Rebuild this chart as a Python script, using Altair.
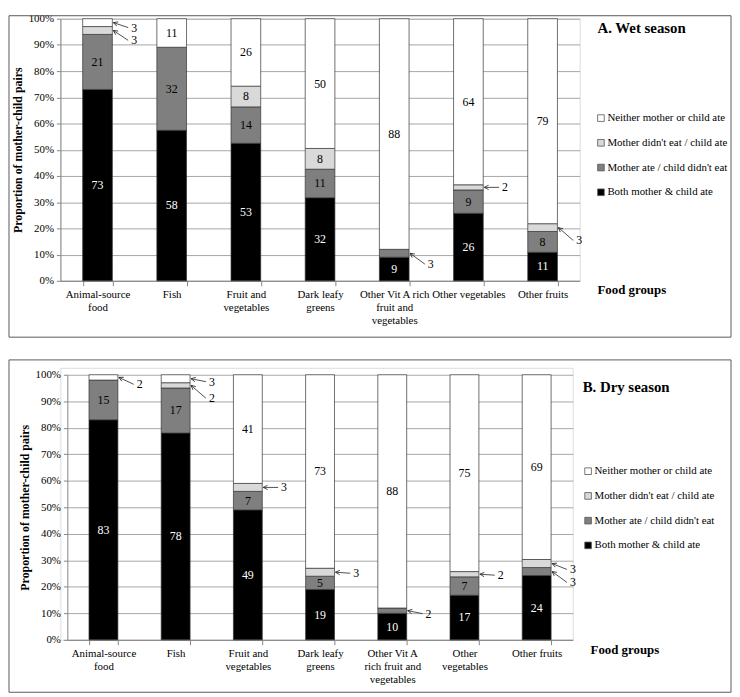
import json
import altair as alt
import pandas as pd

categories = ["Animal-source food", "Fish", "Fruit and vegetables", "Dark leafy greens",
              "Other Vit A rich fruit and vegetables", "Other vegetables", "Other fruits"]
groups = ["Both mother & child ate", "Mother ate / child didn't eat",
          "Mother didn't eat / child ate", "Neither mother or child ate"]
group_colors = ["#000000", "#7f7f7f", "#d9d9d9", "#ffffff"]

wet_both = [73, 58, 53, 32, 9, 26, 11]
wet_mother_only = [21, 32, 14, 11, 3, 9, 8]
wet_child_only = [3, 0, 8, 8, 0, 2, 3]
wet_neither = [3, 11, 26, 50, 88, 64, 79]

dry_both = [83, 78, 49, 19, 10, 17, 24]
dry_mother_only = [15, 17, 7, 5, 2, 7, 3]
dry_child_only = [0, 2, 3, 3, 0, 2, 3]
dry_neither = [2, 3, 41, 73, 88, 75, 69]

wet_tick_lines = [["Animal-source", "food"], ["Fish"], ["Fruit and", "vegetables"],
                  ["Dark leafy", "greens"], ["Other Vit A rich", "fruit and", "vegetables"],
                  ["Other vegetables"], ["Other fruits"]]
dry_tick_lines = [["Animal-source", "food"], ["Fish"], ["Fruit and", "vegetables"],
                  ["Dark leafy", "greens"], ["Other Vit A", "rich fruit and", "vegetables"],
                  ["Other", "vegetables"], ["Other fruits"]]

# vertical pixel shift of each call-out label, keyed by (category index, group index)
wet_callouts = {(0, 3): 5, (0, 2): 10, (4, 1): 11, (5, 2): 0, (6, 2): 13}
dry_callouts = {(0, 3): 7, (1, 3): 3, (1, 2): 13, (2, 2): 0, (3, 2): 1,
                (4, 1): 3, (5, 2): 1, (6, 2): 6, (6, 1): 11}

FONT = "Liberation Serif, Times New Roman, Tinos, Noto Serif, DejaVu Serif, serif"
GRID = "#a6a6a6"
AXC = "#868686"
INK = "#222222"


def panel(series, tick_lines, callouts, title, W, H, inset, border, legend_xy, title_xy, foot_xy):
    """W, H: group size; inset: (left, top) pixels where the plotted region begins."""
    rows = []
    for gi, vals in enumerate(series):
        for ci, v in enumerate(vals):
            rows.append({"category": categories[ci], "group": groups[gi], "order": gi,
                         "value": v, "dy": callouts.get((ci, gi), 0)})
    df = pd.DataFrame(rows)
    ix, iy = inset
    plot_h = H - iy
    bw = 0.4 * (W - ix) / len(categories)
    label_expr = " : ".join(
        f"datum.value == {json.dumps(c)} ? {json.dumps(l)}" for c, l in zip(categories, tick_lines)
    ) + " : datum.value"

    base = alt.Chart(df).transform_stack(
        stack="value", groupby=["category"], as_=["y0", "y1"], offset="normalize",
        sort=[alt.SortField("order", order="ascending")]
    ).transform_calculate(mid="(datum.y0 + datum.y1) / 2")

    xscale = alt.Scale(paddingInner=0.6, paddingOuter=0.3, range=[ix, W])
    xaxis = alt.Axis(
        title=None, labelExpr=label_expr, labelAngle=0, tickBand="extent",
        domainColor=AXC, tickColor=AXC, tickSize=5, labelFont=FONT, labelFontSize=11,
        labelLineHeight=13, labelPadding=3, labelColor="#000", grid=False, labelLimit=300)
    xenc = alt.X("category:N", sort=categories, scale=xscale, axis=xaxis)
    yscale = alt.Scale(domain=[0, 1], nice=False, range=[H, iy])
    yaxis = alt.Axis(
        format=".0%", values=[i / 10 for i in range(11)], grid=True, gridColor=GRID,
        domainColor=AXC, tickColor=AXC, tickSize=4, labelFont=FONT, labelFontSize=11,
        labelColor="#000", labelPadding=3, offset=-ix,
        title="Proportion of mother-child pairs", titleFont=FONT, titleFontSize=12,
        titleFontWeight="bold", titleColor="#000", titlePadding=4)

    def yenc(field):
        return alt.Y(field, type="quantitative", scale=yscale, axis=yaxis)

    bars = base.transform_filter("datum.value > 0").mark_bar(
        stroke="#333333", strokeWidth=0.7
    ).encode(
        x=xenc,
        y=yenc("y0"),
        y2="y1:Q",
        color=alt.Color("group:N", scale=alt.Scale(domain=groups[::-1], range=group_colors[::-1]),
                        legend=alt.Legend(orient="none", legendX=legend_xy[0], legendY=legend_xy[1],
                                          title=None, symbolType="square", symbolSize=45,
                                          symbolStrokeColor="#555555", symbolStrokeWidth=0.8,
                                          labelFont=FONT, labelFontSize=11, labelColor="#000",
                                          rowPadding=13, labelOffset=1)),
    )

    values = base.transform_filter("datum.value >= 5").mark_text(
        font=FONT, fontSize=12
    ).encode(
        x=xenc,
        y=yenc("mid"),
        text="value:Q",
        color=alt.condition("datum.order == 0", alt.value("white"), alt.value("black")),
    )

    ann = base.transform_filter("datum.value > 0 && datum.value <= 3").transform_calculate(
        ly=f"datum.mid - datum.dy / {plot_h}",
        ang="(atan2(datum.dy, 15) * 180 / PI + 360) % 360",
    )
    rule = ann.mark_rule(xOffset=bw / 2 + 1, x2Offset=bw / 2 + 16, color=INK, strokeWidth=0.8).encode(
        x=xenc, x2=alt.X2("category"),
        y=yenc("mid"), y2="ly:Q",
    )
    head = ann.mark_point(shape="M0,0L1.6,-0.8M0,0L1.6,0.8", filled=False, size=30,
                          xOffset=bw / 2 + 1, color=INK, strokeWidth=0.8, opacity=1).encode(
        x=xenc, y=yenc("mid"),
        angle=alt.Angle("ang:Q", scale=None),
    )
    callout_text = ann.mark_text(align="left", baseline="middle", xOffset=bw / 2 + 19,
                                 font=FONT, fontSize=12, color="#000").encode(
        x=xenc, y=yenc("ly"), text="value:Q",
    )

    title_mark = alt.Chart(pd.DataFrame({"t": [title]})).mark_text(
        align="left", baseline="middle", font=FONT, fontSize=15, fontWeight="bold", color="#000"
    ).encode(x=alt.value(title_xy[0]), y=alt.value(title_xy[1]), text="t:N")
    foot_mark = alt.Chart(pd.DataFrame({"t": ["Food groups"]})).mark_text(
        align="left", baseline="middle", font=FONT, fontSize=13, fontWeight="bold", color="#000"
    ).encode(x=alt.value(foot_xy[0]), y=alt.value(foot_xy[1]), text="t:N")
    frame = alt.Chart(pd.DataFrame({"b": [0]})).mark_rect(
        fill="transparent", stroke="#595959", strokeWidth=1
    ).encode(x=alt.value(border[0]), x2=alt.value(border[1]),
             y=alt.value(border[2]), y2=alt.value(border[3]))

    return alt.layer(frame, bars, values, rule, head, callout_text, title_mark, foot_mark).properties(
        width=W, height=H)


top = panel([wet_both, wet_mother_only, wet_child_only, wet_neither], wet_tick_lines, wet_callouts,
            "A. Wet season", 525, 265, (0, 0), (-52, 678, -3, 322), (541, 95), (543, 9), (543, 274))
bottom = panel([dry_both, dry_mother_only, dry_child_only, dry_neither], dry_tick_lines, dry_callouts,
               "B. Dry season", 518, 275, (7, 7), (-52, 678, -8, 328), (528, 99), (528, 19), (536, 285))

chart = alt.vconcat(top, bottom, spacing=21).properties(
    padding={"left": 0, "top": 0, "right": 0, "bottom": 0}
).resolve_scale(color="independent").configure_view(stroke=None).configure(
    font=FONT).configure_legend(labelFont=FONT)

chart.save("out.html", embed_options={"renderer": "svg", "actions": False})
